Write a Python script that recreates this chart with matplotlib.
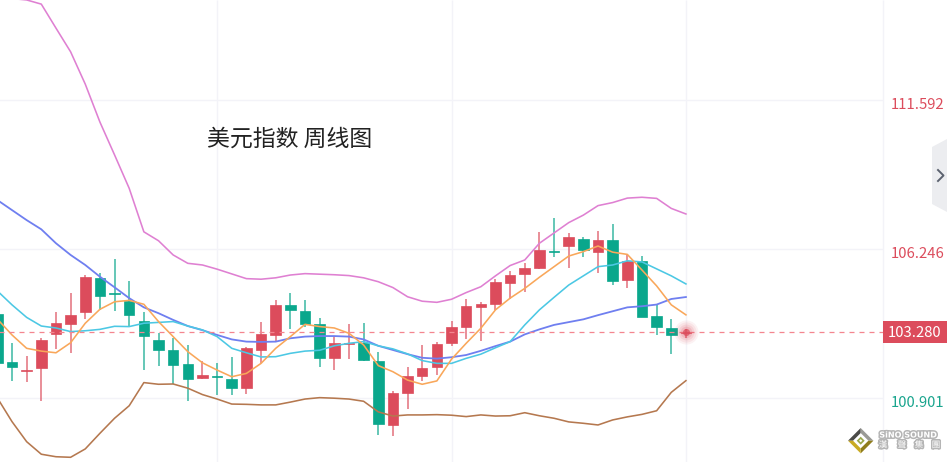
#!/usr/bin/env python3
"""Weekly US dollar index candlestick chart with moving averages and bands."""

import matplotlib
matplotlib.use("Agg")
import matplotlib.pyplot as plt
import matplotlib.patheffects as pe
from matplotlib.patches import Polygon
import numpy as np

plt.rcParams["font.family"] = ["Noto Sans CJK SC", "DejaVu Sans"]

# ── data ──────────────────────────────────────────────────────────────────────
opens = [103.93, 102.22, 101.88, 101.98, 103.23, 103.58, 104.01, 105.21, 104.70, 104.39, 103.69, 103.00,
         102.64, 102.13, 101.62, 101.72, 101.60, 101.28, 102.63, 103.19, 104.24, 104.04, 103.56, 102.36,
         102.84, 102.90, 102.26, 99.94, 101.11, 101.72, 102.03, 102.89, 103.46, 104.18, 104.28, 105.06,
         105.37, 105.57, 106.20, 106.36, 106.63, 106.15, 106.60, 105.14, 105.82, 103.86, 103.44, 103.24]
closes = [102.17, 102.02, 101.92, 103.00, 103.60, 103.91, 105.26, 104.58, 104.65, 103.89, 103.15, 102.63,
          102.11, 101.59, 101.73, 101.67, 101.29, 102.70, 103.21, 104.24, 104.06, 103.58, 102.36, 102.90,
          102.90, 102.28, 99.98, 101.09, 101.70, 101.99, 102.87, 103.48, 104.21, 104.30, 105.08, 105.34,
          105.59, 106.22, 106.15, 106.68, 106.23, 106.60, 105.12, 105.84, 103.84, 103.46, 103.19, 103.28]
highs = [103.93, 102.90, 102.44, 103.06, 103.99, 104.69, 105.34, 105.39, 105.89, 105.13, 103.99, 103.25,
         103.08, 102.82, 102.26, 102.16, 102.40, 102.74, 103.64, 104.43, 104.69, 104.43, 103.78, 103.14,
         103.56, 103.62, 102.56, 101.18, 102.04, 102.82, 102.92, 103.69, 104.47, 104.37, 105.18, 105.46,
         105.77, 106.86, 107.38, 106.83, 106.68, 106.90, 107.17, 106.04, 106.00, 104.26, 103.74, 103.38]
lows = [102.17, 101.54, 101.50, 100.81, 102.67, 102.54, 103.76, 104.08, 104.05, 103.46, 101.93, 102.05,
        101.42, 100.80, 101.60, 101.03, 101.03, 101.07, 102.18, 102.95, 103.40, 103.48, 102.02, 101.93,
        102.32, 102.23, 99.59, 99.54, 100.53, 101.53, 101.75, 102.79, 103.02, 102.97, 104.06, 104.46,
        104.71, 105.54, 105.97, 105.57, 105.97, 105.40, 104.97, 104.88, 103.84, 103.19, 102.50, 103.06]

band_upper = [115.23, 115.25, 115.20, 115.05, 114.19, 113.34, 112.18, 110.82, 109.64, 108.44, 106.88, 106.56,
              106.05, 105.75, 105.69, 105.54, 105.37, 105.20, 105.18, 105.23, 105.33, 105.38, 105.36, 105.34,
              105.31, 105.23, 105.09, 104.88, 104.55, 104.39, 104.35, 104.46, 104.70, 104.91, 105.30, 105.67,
              105.87, 106.47, 106.84, 107.21, 107.48, 107.82, 107.93, 108.09, 108.12, 108.08, 107.72, 107.52]
band_lower = [100.92, 100.07, 99.35, 98.90, 98.81, 98.79, 99.09, 99.65, 100.19, 100.64, 101.47, 101.41,
              101.42, 101.27, 101.04, 100.88, 100.70, 100.69, 100.67, 100.67, 100.77, 100.88, 100.93, 100.91,
              100.88, 100.80, 100.42, 100.27, 100.31, 100.31, 100.32, 100.30, 100.25, 100.31, 100.27, 100.28,
              100.39, 100.28, 100.19, 100.06, 100.01, 99.95, 100.13, 100.24, 100.33, 100.46, 101.12, 101.54]
ma_slow = [108.02, 107.66, 107.30, 106.97, 106.47, 106.05, 105.69, 105.27, 104.89, 104.50, 104.17, 103.96,
           103.72, 103.50, 103.35, 103.18, 103.02, 102.94, 102.93, 102.94, 103.06, 103.12, 103.14, 103.14,
           103.12, 103.02, 102.79, 102.64, 102.49, 102.36, 102.33, 102.38, 102.46, 102.61, 102.78, 102.94,
           103.20, 103.38, 103.54, 103.64, 103.74, 103.89, 104.03, 104.17, 104.21, 104.27, 104.47, 104.54]
ma_mid = [104.76, 104.26, 103.81, 103.50, 103.43, 103.30, 103.33, 103.38, 103.49, 103.48, 103.60, 103.63,
          103.66, 103.50, 103.36, 103.12, 102.70, 102.54, 102.39, 102.40, 102.52, 102.60, 102.63, 102.79,
          102.88, 102.94, 102.79, 102.68, 102.50, 102.26, 102.16, 102.16, 102.34, 102.49, 102.72, 102.94,
          103.54, 104.08, 104.53, 104.97, 105.30, 105.63, 105.69, 105.84, 105.80, 105.55, 105.30, 105.01]
ma_fast = [103.75, 103.18, 102.70, 102.60, 102.54, 102.90, 103.60, 104.10, 104.37, 104.42, 104.28, 103.66,
           103.12, 102.58, 102.18, 101.92, 101.68, 101.80, 102.16, 102.70, 103.12, 103.56, 103.48, 103.43,
           103.24, 102.82, 102.08, 101.86, 101.56, 101.41, 101.53, 102.31, 102.88, 103.42, 104.08, 104.50,
           104.85, 105.25, 105.63, 106.01, 106.17, 106.37, 106.15, 106.07, 105.51, 104.94, 104.26, 103.90]

tick_values = [111.592, 106.246, 100.901]
tick_labels = ["111.592", "106.246", "100.901"]
last_price = 103.28
last_label = "103.280"
vgrid_at = [15, 31, 47]
title = "美元指数 周线图"

RED = "#dc4c5c"
GREEN = "#0aa78c"
GRID = "#f3f3f8"
W, H = 947, 462


def px(x, y):
    # pixel position of the reference -> figure fraction
    return x / W, 1 - y / H


# ── figure ────────────────────────────────────────────────────────────────────
fig = plt.figure(figsize=(W / 100, H / 100), dpi=100)
ax = fig.add_axes([0, 0, 1, 1])
ax.set_xlim(0.181, 64.82)
ax.set_ylim(98.621, 115.198)
ax.axis("off")

x_right = 60.46   # price axis edge, in candle units

# ── grid ──────────────────────────────────────────────────────────────────────
ax.hlines(tick_values, 0, x_right, color=GRID, linewidth=1, zorder=1)
ax.vlines(vgrid_at + [x_right], 98.621, 115.198, color=GRID, linewidth=1, zorder=1)

# ── candles ───────────────────────────────────────────────────────────────────
x = np.arange(len(opens))
o, c = np.array(opens), np.array(closes)
colors = [RED if up else GREEN for up in c >= o]
ax.vlines(x, lows, highs, color=colors, linewidth=1.1, alpha=0.8, zorder=2)
ax.bar(x, np.maximum(np.abs(c - o), 0.05), bottom=np.minimum(o, c), width=0.72,
       color=colors, edgecolor=colors, linewidth=0.5, zorder=3)

# ── lines ─────────────────────────────────────────────────────────────────────
ax.plot(x, band_upper, color="#df80d2", linewidth=1.15, zorder=4)
ax.plot(x, band_lower, color="#b5784f", linewidth=1.15, zorder=4)
ax.plot(x, ma_slow, color="#6f7ff0", linewidth=1.3, zorder=4)
ax.plot(x, ma_mid, color="#4cc8e4", linewidth=1.15, zorder=4)
ax.plot(x, ma_fast, color="#f9a75a", linewidth=1.15, zorder=4)

# ── last price ────────────────────────────────────────────────────────────────
ax.hlines(last_price, 0, x_right, color="#f4858f", linewidth=0.9,
          linestyles=(0, (4, 4)), zorder=5)
for size, alpha in [(300, 0.07), (210, 0.09), (130, 0.12), (70, 0.18), (26, 0.75)]:
    ax.scatter(x[-1], last_price, s=size, color=RED, alpha=alpha, linewidths=0, zorder=6)

# ── texts ─────────────────────────────────────────────────────────────────────
ax.text(*px(207, 139), title, transform=ax.transAxes, fontsize=16.5, color="#222222",
        ha="left", va="center", zorder=7)

label_colors = [RED, RED, "#1aa58e"]
for value, label, col in zip(tick_values, tick_labels, label_colors):
    ax.annotate(label, xy=(917.5 / W, value), xycoords=("axes fraction", "data"),
                xytext=(0, -3.5), textcoords="offset points",
                fontsize=10.7, color=col, ha="center", va="center", zorder=7)

fig.add_artist(Polygon([px(883, 321), px(947, 321), px(947, 343), px(883, 343)],
                       closed=True, transform=fig.transFigure, facecolor=RED, edgecolor="none"))
fig.text(*px(915, 333), last_label, color="white", fontsize=10.7, ha="center", va="center")

# ── collapse tab ──────────────────────────────────────────────────────────────
fig.add_artist(Polygon([px(947, 139), px(932, 147), px(932, 204), px(947, 212)], closed=True,
                       transform=fig.transFigure, facecolor="#ecedf0", edgecolor="none"))
xs, ys = zip(px(938, 170), px(943.5, 175.5), px(938, 181))
fig.add_artist(plt.Line2D(xs, ys, transform=fig.transFigure, color="#5c6270", linewidth=1.4))

# ── logo ──────────────────────────────────────────────────────────────────────
cx, cy, r = 860.7, 440.7, 12.7
for pts, col in [
    ([(cx - r, cy), (cx, cy - r), (cx, cy - r + 5), (cx - r + 5, cy)], "#4a4a48"),
    ([(cx, cy - r), (cx + r, cy), (cx + r - 5, cy), (cx, cy - r + 5)], "#9a9a96"),
    ([(cx + r, cy), (cx, cy + r), (cx, cy + r - 5), (cx + r - 5, cy)], "#8f7d1c"),
    ([(cx - r, cy), (cx, cy + r), (cx, cy + r - 5), (cx - r + 5, cy)], "#c9ab22"),
    ([(cx - 4, cy), (cx, cy - 4), (cx + 4, cy), (cx, cy + 4)], "#9aa84a"),
    ([(cx - 1.6, cy), (cx, cy - 1.6), (cx + 1.6, cy), (cx, cy + 1.6)], "#ffffff"),
]:
    fig.add_artist(Polygon([px(a, b) for a, b in pts], closed=True,
                           transform=fig.transFigure, facecolor=col, edgecolor="none"))

halo = [pe.withStroke(linewidth=2.2, foreground="#b5b5b5")]
fig.text(*px(908, 435), "SiNO SOUND", color="white", fontsize=5.8, fontweight="bold",
         family=["DejaVu Sans"], ha="center", va="center", path_effects=halo)
for xt, ch in zip([883, 902, 919, 936], "漢聲集團"):
    fig.text(*px(xt, 445), ch, color="white", fontsize=6.2, family=["Noto Sans CJK TC"],
             ha="center", va="center", path_effects=halo)

fig.savefig("out.png", dpi=100)
